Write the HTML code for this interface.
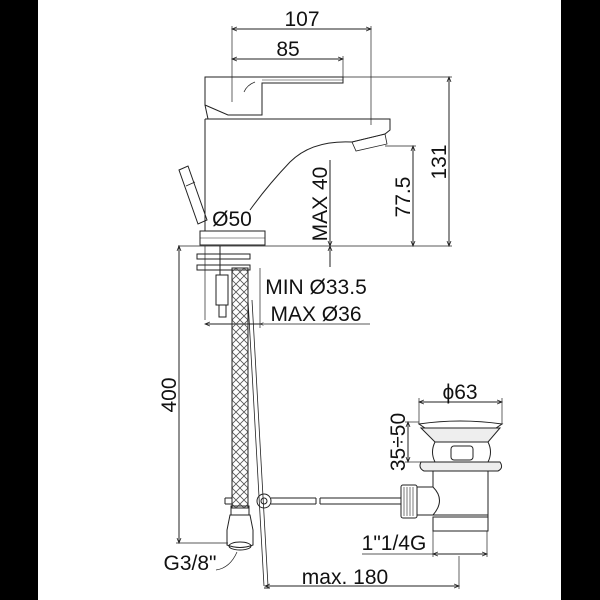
<!DOCTYPE html>
<html><head><meta charset="utf-8"><style>
html,body{margin:0;padding:0;background:#000;}
svg{display:block;}
text{font-family:"Liberation Sans",sans-serif;font-size:21px;fill:#111;}
</style></head><body>
<svg width="600" height="600" viewBox="0 0 600 600" xmlns="http://www.w3.org/2000/svg">
<defs>
<pattern id="hatch" width="8" height="8" patternUnits="userSpaceOnUse">
<path d="M0,0 L8,8 M8,0 L0,8" stroke="#555" stroke-width="0.8"/>
</pattern>
<marker id="a" markerWidth="6" markerHeight="6" refX="5" refY="3" orient="auto-start-reverse"><path d="M0,1 L5,3 L0,5" fill="none" stroke="#222" stroke-width="0.8"/></marker>
</defs>
<rect x="38" y="0" width="523" height="600" fill="#fff"/>
<g fill="none" stroke="#222" stroke-width="1">
<line x1="232" y1="29" x2="371" y2="29" marker-start="url(#a)" marker-end="url(#a)"/>
<line x1="232" y1="59" x2="343" y2="59" marker-start="url(#a)" marker-end="url(#a)"/>
<line x1="232" y1="26" x2="232" y2="102" stroke-width="0.7"/>
<line x1="371" y1="26" x2="371" y2="125" stroke-width="0.7"/>
<line x1="343" y1="56" x2="343" y2="77" stroke-width="0.7"/>
<path d="M205,77 L343,77 L343,83 L262,83 L262,115 L228,115 L205,105 Z"/>
<line x1="262" y1="80" x2="343" y2="80" stroke-width="0.6"/>
<path d="M255,82 Q247,85 244,92" stroke-width="0.8"/>
<path d="M205,105 L208,119"/>
<path d="M205,119 L390,119 L390,130 L385,134 L352,142 Q312,140 290,162 Q268,185 250,210"/>
<line x1="205" y1="119" x2="205" y2="231"/>
<path d="M352,142 L385,134 L387,144 L356,151 Z" stroke-width="0.8"/>
<path d="M179,170 L188,166 L207,220 L198,224 Z"/>
<line x1="186" y1="186" x2="195" y2="182" stroke-width="0.7"/>
<rect x="200" y="231" width="65" height="14"/>
<line x1="200" y1="238" x2="265" y2="238" stroke-width="0.6"/>
<line x1="178" y1="246" x2="452" y2="246" stroke-width="0.7"/>
<line x1="449" y1="77" x2="449" y2="246" marker-start="url(#a)" marker-end="url(#a)"/>
<line x1="343" y1="77" x2="452" y2="77" stroke-width="0.7"/>
<line x1="413" y1="146" x2="413" y2="246" marker-start="url(#a)" marker-end="url(#a)"/>
<line x1="385" y1="146" x2="416" y2="146" stroke-width="0.7"/>
<line x1="330" y1="160" x2="330" y2="246" marker-end="url(#a)"/>
<line x1="330" y1="267" x2="330" y2="246" marker-end="url(#a)"/>
<rect x="197" y="254" width="53" height="5"/>
<rect x="197" y="265" width="53" height="5"/>
<line x1="205" y1="246" x2="205" y2="320" stroke-width="0.7"/>
<line x1="220" y1="246" x2="220" y2="275"/>
<rect x="216" y="275" width="12" height="30"/>
<rect x="219" y="305" width="7" height="12"/>
<line x1="260" y1="268" x2="260" y2="328" stroke-width="0.7"/>
<line x1="205" y1="324" x2="260" y2="324" marker-start="url(#a)"/>
<line x1="260" y1="324" x2="370" y2="324" stroke-width="0.7" marker-start="url(#a)"/>
<rect x="232" y="268" width="16" height="240" fill="url(#hatch)"/>
<rect x="231" y="506" width="18" height="9"/>
<path d="M230,515 L250,515 L253,530 L253,545 Q240,550 227,545 L227,530 Z"/>
<ellipse cx="240" cy="546" rx="11" ry="4"/>
<line x1="179" y1="246" x2="179" y2="543" marker-start="url(#a)" marker-end="url(#a)"/>
<line x1="176" y1="543" x2="228" y2="543" stroke-width="0.7"/>
<path d="M248,300 L264,586 M252,300 L268,586" stroke-width="0.8"/>
<line x1="264" y1="588" x2="270" y2="588"/>
<circle cx="264" cy="501" r="7"/>
<circle cx="264" cy="501" r="3"/>
<path d="M225,498 L232,498 M225,504 L232,504 M225,498 L225,504" />
<path d="M271,498 L316,498 M271,504 L316,504 M316,498 L316,504 M320,498 L320,504 M320,498 L401,498 M320,504 L401,504"/>
<path d="M237,552 Q230,568 216,570" stroke-width="0.7"/>
<line x1="265" y1="586" x2="459" y2="586" marker-start="url(#a)" marker-end="url(#a)"/>
<line x1="459" y1="556" x2="459" y2="589" stroke-width="0.7"/>
<line x1="419" y1="402" x2="502" y2="402" marker-start="url(#a)" marker-end="url(#a)"/>
<line x1="419" y1="398" x2="419" y2="424" stroke-width="0.7"/>
<line x1="502" y1="398" x2="502" y2="424" stroke-width="0.7"/>
<path d="M419,424 Q460,418 502,424 L496,428 L425,428 Z"/>
<path d="M421,428 L500,428 L488,442 L435,442 Z" fill="#eee"/>
<path d="M435,442 Q430,452 435,462 M488,442 Q493,452 488,462"/>
<rect x="451" y="446" width="22" height="14" rx="3"/>
<path d="M421,462 L500,462 Q504,468 498,471 L424,471 Q418,468 421,462 Z" fill="#eee"/>
<path d="M433,471 L433,487 M488,471 L488,517"/>
<path d="M433,487 Q446,500 433,515 M433,515 L488,515"/>
<path d="M417,487 L433,487 M417,515 L433,515"/>
<rect x="401" y="485" width="16" height="33" rx="2"/>
<path d="M404,487 L404,516 M407,487 L407,516 M410,487 L410,516 M413,487 L413,516" stroke-width="0.6"/>
<rect x="433" y="517" width="55" height="14"/>
<line x1="408" y1="422" x2="408" y2="462" marker-start="url(#a)" marker-end="url(#a)"/>
<line x1="405" y1="422" x2="419" y2="422" stroke-width="0.7"/>
<line x1="405" y1="462" x2="421" y2="462" stroke-width="0.7"/>
<line x1="433" y1="531" x2="433" y2="557" stroke-width="0.7"/>
<line x1="487" y1="531" x2="487" y2="557" stroke-width="0.7"/>
<line x1="433" y1="554" x2="487" y2="554" marker-start="url(#a)" marker-end="url(#a)"/>
<line x1="362" y1="554" x2="433" y2="554" stroke-width="0.7"/>
</g>
<text x="302" y="26" text-anchor="middle">107</text>
<text x="288" y="56" text-anchor="middle">85</text>
<text x="232" y="226" text-anchor="middle">Ø50</text>
<text transform="translate(327,204) rotate(-90)" text-anchor="middle">MAX 40</text>
<text transform="translate(410,197) rotate(-90)" text-anchor="middle">77.5</text>
<text transform="translate(446,162) rotate(-90)" text-anchor="middle">131</text>
<text x="316" y="294" text-anchor="middle">MIN Ø33.5</text>
<text x="316" y="321" text-anchor="middle">MAX Ø36</text>
<text transform="translate(176,395) rotate(-90)" text-anchor="middle">400</text>
<text x="460" y="399" text-anchor="middle">ϕ63</text>
<text transform="translate(405,442) rotate(-90)" text-anchor="middle">35÷50</text>
<text x="394" y="550" text-anchor="middle">1"1/4G</text>
<text x="190" y="570" text-anchor="middle">G3/8"</text>
<text x="345" y="584" text-anchor="middle">max. 180</text>
</svg>
</body></html>
